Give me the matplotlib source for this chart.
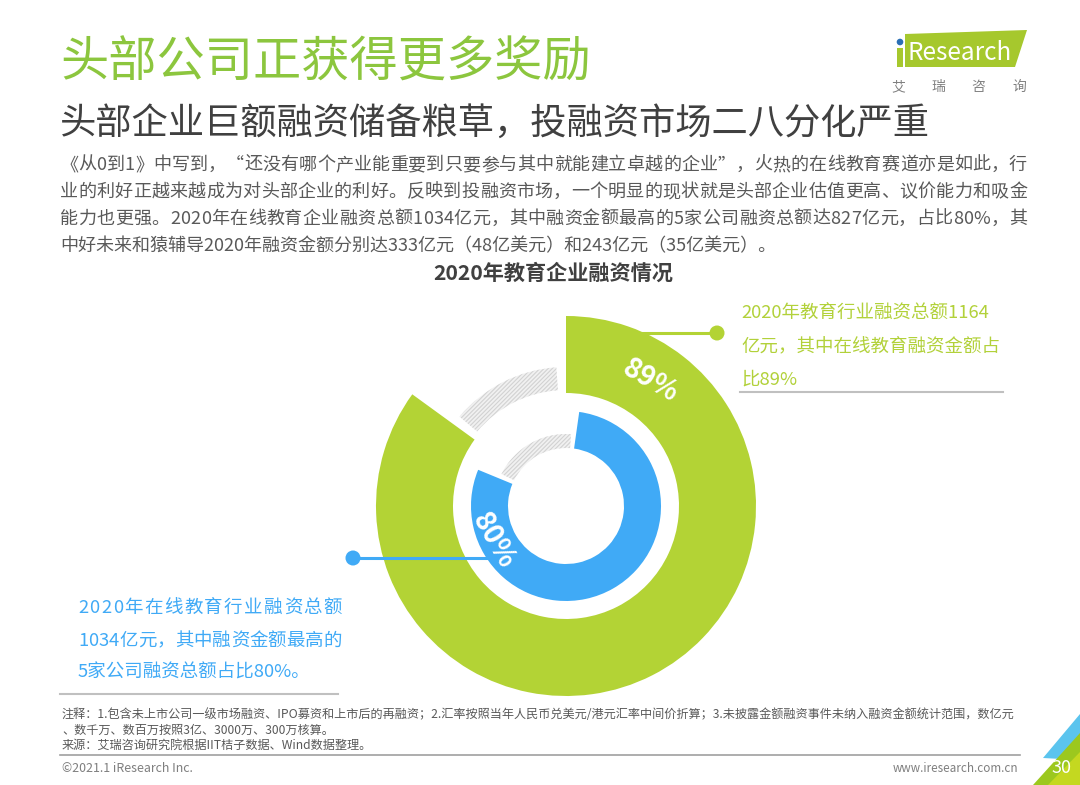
import matplotlib
matplotlib.use("Agg")
import matplotlib.pyplot as plt
from matplotlib.patches import Wedge, Circle, Polygon

plt.rcParams['font.family'] = ['Noto Sans CJK SC', 'DejaVu Sans']
plt.rcParams['hatch.linewidth'] = 0.8

# ---------------- data ----------------
title = "头部公司正获得更多奖励"
subtitle = "头部企业巨额融资储备粮草，投融资市场二八分化严重"
body_lines = [
    "《从0到1》中写到，“还没有哪个产业能重要到只要参与其中就能建立卓越的企业”，火热的在线教育赛道亦是如此，行",
    "业的利好正越来越成为对头部企业的利好。反映到投融资市场，一个明显的现状就是头部企业估值更高、议价能力和吸金",
    "能力也更强。2020年在线教育企业融资总额1034亿元，其中融资金额最高的5家公司融资总额达827亿元，占比80%，其",
    "中好未来和猿辅导2020年融资金额分别达333亿元（48亿美元）和243亿元（35亿美元）。",
]
chart_title = "2020年教育企业融资情况"
ring_labels = ["89%", "80%"]          # printed labels
ring_arc_pct = [85, 79]               # arc share as drawn in the picture
green_note = ["2020年教育行业融资总额1164", "亿元，其中在线教育融资金额占", "比89%"]
blue_note = ["2020年在线教育行业融资总额", "1034亿元，其中融资金额最高的", "5家公司融资总额占比80%。"]
notes = [
    "注释：1.包含未上市公司一级市场融资、IPO募资和上市后的再融资；2.汇率按照当年人民币兑美元/港元汇率中间价折算；3.未披露金额融资事件未纳入融资金额统计范围，数亿元",
    "、数千万、数百万按照3亿、3000万、300万核算。",
    "来源：艾瑞咨询研究院根据IIT桔子数据、Wind数据整理。",
]
footer_left = "©2021.1 iResearch Inc."
footer_right = "www.iresearch.com.cn"
page_no = "30"
logo_text = "Research"
logo_cn = ["艾", "瑞", "咨", "询"]

# ---------------- colours ----------------
GREEN = "#b3d335"
TITLE_GREEN = "#8cc63e"
NOTE_GREEN = "#b2d13a"
BLUE = "#40aaf6"
GREY_TXT = "#595959"
DARK = "#404040"
LINE_GREY = "#c0c0c0"
HATCH = "#d2d2d2"
HATCH_BG = "#f1f1f1"

W, H = 1080, 785
fig = plt.figure(figsize=(W / 100, H / 100), dpi=100)
ax = fig.add_axes([0, 0, 1, 1])
ax.set_xlim(0, W)
ax.set_ylim(H, 0)
ax.axis("off")
renderer = fig.canvas.get_renderer()

_cache = {}


def tw(s, size, weight="normal"):
    key = (s, size, weight)
    if key not in _cache:
        t = ax.text(0, 0, s, fontsize=size, weight=weight)
        _cache[key] = t.get_window_extent(renderer).width
        t.remove()
    return _cache[key]


def adv(c, size, weight="normal"):
    return tw("中" + c + "中", size, weight) - tw("中中", size, weight)


def fit_size(s, width, weight="normal"):
    base = 20
    return base * width / tw(s, base, weight)


def justify(x0, x1, y, s, size, color):
    ws = [adv(c, size) for c in s]
    extra = (x1 - x0 - sum(ws)) / (len(s) - 1)
    x = x0
    for c, w in zip(s, ws):
        ax.text(x, y, c, fontsize=size, color=color, ha="left", va="center")
        x += w + extra


# ---------------- header ----------------
ax.text(60, 63, title, fontsize=fit_size(title, 530), color=TITLE_GREEN,
        ha="left", va="center")
ax.text(60, 124, subtitle, fontsize=fit_size(subtitle, 870), color=DARK,
        ha="left", va="center")

body_size = 13.0
body_y = [165, 192, 219, 246]
for i, (line, y) in enumerate(zip(body_lines, body_y)):
    if i < 3:
        justify(60, 1027, y, line, body_size, GREY_TXT)
    else:
        ax.text(60, y, line, fontsize=body_size, color=GREY_TXT, ha="left", va="center")

# logo
ax.add_patch(Polygon([(905, 34), (1027, 30), (1015, 67), (905, 67)], closed=True,
                     facecolor="#a6c82d", edgecolor="none"))
ax.add_patch(Polygon([(897, 48), (903, 48), (903, 67), (897, 67)], closed=True,
                     facecolor="#a6c82d", edgecolor="none"))
ax.add_patch(Circle((900, 42), 3.3, facecolor="#2a6fb5", edgecolor="none"))
ax.text(908, 53, logo_text, fontsize=fit_size(logo_text, 104), color="white",
        ha="left", va="center")
for c, x in zip(logo_cn, [898, 938, 978, 1019]):
    ax.text(x, 87, c, fontsize=10, color="#808080", ha="center", va="center")

# ---------------- chart ----------------
ax.text(553, 273, chart_title, fontsize=fit_size(chart_title, 240, "bold"),
        color=DARK, weight="bold", ha="center", va="center")

cx, cy = 566, 506
# outer ring (green) starting at 12 o'clock going clockwise
outer_span = ring_arc_pct[0] / 100 * 360
ax.add_patch(Wedge((cx, cy), 190, -90, -90 + outer_span, width=77,
                   facecolor=GREEN, edgecolor="none"))
ax.add_patch(Wedge((cx, cy), 139, -90 + outer_span + 4, -90 + 356, width=23,
                   facecolor=HATCH_BG, edgecolor=HATCH, hatch="////////", lw=0))
# inner ring (blue)
inner_start = 8
inner_span = ring_arc_pct[1] / 100 * 360
ax.add_patch(Wedge((cx, cy), 95, -90 + inner_start, -90 + inner_start + inner_span,
                   width=37, facecolor=BLUE, edgecolor="none"))
ax.add_patch(Wedge((cx, cy), 72, -90 + inner_start + inner_span + 4, -90 + 364, width=14,
                   facecolor=HATCH_BG, edgecolor=HATCH, hatch="////////", lw=0))

ax.text(650, 381, ring_labels[0], fontsize=20, color="white", rotation=-30,
        weight="bold", ha="center", va="center", rotation_mode="anchor")
ax.text(494, 541, ring_labels[1], fontsize=20, color="white", rotation=-60,
        weight="bold", ha="center", va="center", rotation_mode="anchor")

# callouts
ax.plot([640, 717], [333, 333], color=GREEN, lw=2.2, solid_capstyle="butt")
ax.add_patch(Circle((717, 333), 7.5, facecolor=GREEN, edgecolor="none"))
ax.plot([353, 488], [558, 558], color=BLUE, lw=2.2, solid_capstyle="butt")
ax.add_patch(Circle((353, 558), 7.5, facecolor=BLUE, edgecolor="none"))

note_size = 13.3
for line, y in zip(green_note, [314, 347, 380]):
    ax.text(741, y, line, fontsize=note_size, color=NOTE_GREEN, ha="left", va="center")
ax.plot([740, 1003], [392, 392], color=LINE_GREY, lw=1.5)

for i, (line, y) in enumerate(zip(blue_note, [608, 641, 673])):
    if i < 2:
        justify(78, 342, y, line, note_size, BLUE)
    else:
        ax.text(78, y, line, fontsize=note_size, color=BLUE, ha="left", va="center")
ax.plot([60, 338], [694, 694], color=LINE_GREY, lw=1.5)

# ---------------- footer ----------------
ns = fit_size(notes[0], 953)
for line, y in zip(notes, [715, 730, 745]):
    ax.text(62, y, line, fontsize=ns, color=GREY_TXT, ha="left", va="center")
ax.plot([60, 1020], [755, 755], color="#a0a0a0", lw=1.2)
ax.text(62, 768, footer_left, fontsize=fit_size(footer_left, 131), color="#7f7f7f",
        ha="left", va="center")
ax.text(1018, 768, footer_right, fontsize=fit_size(footer_right, 125), color="#7f7f7f",
        ha="right", va="center")

# corner decoration
ax.add_patch(Polygon([(1043, 758), (1080, 714), (1080, 760)], closed=True,
                     facecolor="#5bc4ee", edgecolor="none"))
ax.add_patch(Polygon([(1033, 785), (1080, 733), (1080, 785)], closed=True,
                     facecolor="#9cc81e", edgecolor="none"))
ax.add_patch(Polygon([(1048, 785), (1080, 752), (1080, 785)], closed=True,
                     facecolor="#c4d820", edgecolor="none"))
ax.text(1062, 768, page_no, fontsize=13, color="white", ha="center", va="center")

fig.savefig("out.png", dpi=100, facecolor="white")
